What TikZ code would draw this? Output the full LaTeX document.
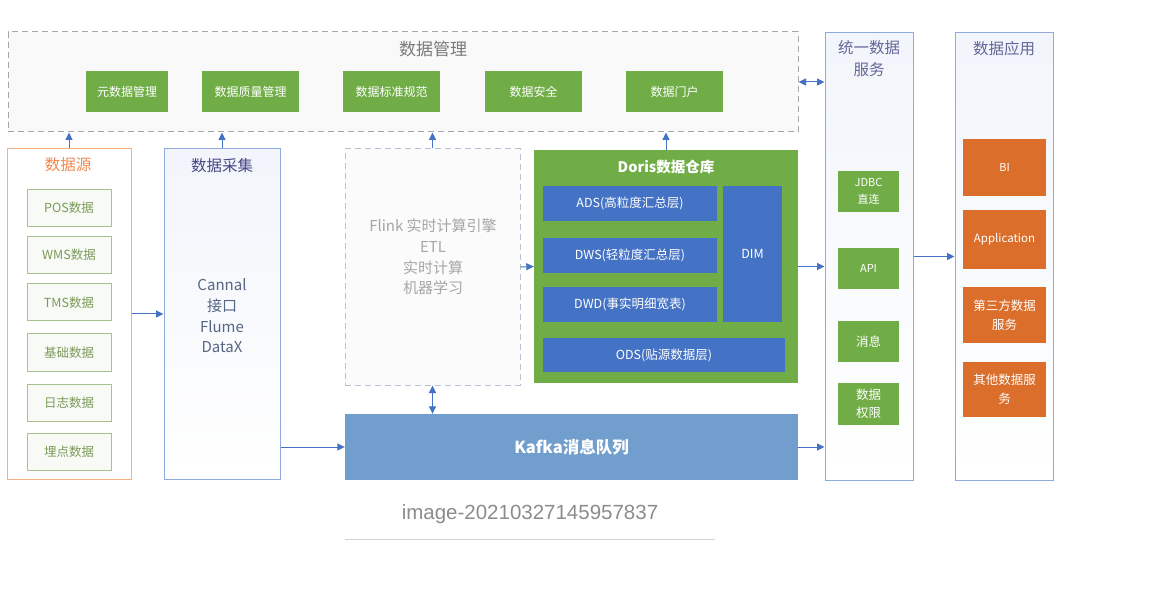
\documentclass[tikz,border=0pt]{standalone}
\usepackage{fontspec}
\setmainfont{Noto Sans CJK SC}
\newfontfamily\capfont{Liberation Sans}
\usetikzlibrary{arrows.meta}
\definecolor{grn}{HTML}{70AD47}
\definecolor{lay}{HTML}{4472C4}
\definecolor{kaf}{HTML}{719ECD}
\definecolor{org}{HTML}{DA6E2A}
\definecolor{frm}{HTML}{8FAADC}
\definecolor{arw}{HTML}{4472C4}
\definecolor{srcb}{HTML}{F4B183}
\definecolor{srct}{HTML}{F08A50}
\definecolor{inb}{HTML}{A9C08F}
\definecolor{intx}{HTML}{7C9A5A}
\tikzset{
  frame/.style={draw=frm, line width=1pt, top color=frm!12, bottom color=white, inner sep=0pt},
  gbox/.style={fill=grn, text=white, inner sep=0pt, align=center, font=\fontsize{12}{15}\selectfont},
  lbox/.style={fill=lay, text=white, inner sep=0pt, align=center, font=\fontsize{12.5}{15}\selectfont},
  obox/.style={fill=org, text=white, inner sep=0pt, align=center, font=\fontsize{12.5}{19}\selectfont},
  sbox/.style={draw=inb, line width=1pt, fill=inb!8, text=intx, inner sep=0pt, minimum width=84, minimum height=37, font=\fontsize{12.5}{15}\selectfont},
  arr/.style={draw=arw, line width=1pt, -{Triangle[length=7.5pt,width=7pt]}},
  darr/.style={draw=arw, line width=1pt, {Triangle[length=7.5pt,width=7pt]}-{Triangle[length=7.5pt,width=7pt]}},
  ttl/.style={inner sep=0pt, align=center}
}
\begin{document}
\begin{tikzpicture}[x=1pt,y=-1pt]
\useasboundingbox[fill=white] (0,0) rectangle (1156,593);

% data management
\node[draw=gray!70, dashed, dash pattern=on 6pt off 4pt, line width=1pt, fill=gray!5, minimum width=790, minimum height=100, inner sep=0pt] (mgmt) at (403,82) {};
\node[ttl, text=gray!95!black, font=\fontsize{17}{20}\selectfont] (mgmtT) at (433,49) {数据管理};
\node[gbox, minimum width=82, minimum height=41] (m1) at (127,91.5) {元数据管理};
\node[gbox, minimum width=97, minimum height=41] (m2) at (250.5,91.5) {数据质量管理};
\node[gbox, minimum width=97, minimum height=41] (m3) at (391.5,91.5) {数据标准规范};
\node[gbox, minimum width=97, minimum height=41] (m4) at (533.5,91.5) {数据安全};
\node[gbox, minimum width=97, minimum height=41] (m5) at (674.5,91.5) {数据门户};

% unified data service
\node[frame, minimum width=88, minimum height=447] (svc) at (869,256.5) {};
\node[ttl, text=gray!80!blue, font=\fontsize{15.5}{22}\selectfont] (svcT) at (869,59) {统一数据\\服务};
\node[gbox, minimum width=61, minimum height=41, font=\fontsize{11}{17}\selectfont] (s1) at (868.5,191.5) {JDBC\\直连};
\node[gbox, minimum width=61, minimum height=41, font=\fontsize{11}{17}\selectfont] (s2) at (868.5,268.5) {API};
\node[gbox, minimum width=61, minimum height=41, font=\fontsize{12.5}{17}\selectfont] (s3) at (868.5,341.5) {消息};
\node[gbox, minimum width=61, minimum height=42, font=\fontsize{12.5}{18}\selectfont] (s4) at (868.5,404) {数据\\权限};

% data application
\node[frame, minimum width=98, minimum height=447] (app) at (1004,256.5) {};
\node[ttl, text=gray!80!blue, font=\fontsize{15.5}{20}\selectfont] (appT) at (1004,49) {数据应用};
\node[obox, minimum width=83, minimum height=57, font=\fontsize{11}{15}\selectfont] (a1) at (1004.5,167.5) {BI};
\node[obox, minimum width=83, minimum height=59, font=\fontsize{11.5}{15}\selectfont] (a2) at (1004.5,239.5) {Application};
\node[obox, minimum width=83, minimum height=56] (a3) at (1004.5,315) {第三方数据\\服务};
\node[obox, minimum width=83, minimum height=55] (a4) at (1004.5,389.5) {其他数据服\\务};

% data source
\node[draw=srcb, line width=1pt, fill=white, minimum width=124, minimum height=330, inner sep=0pt] (src) at (69,314) {};
\node[ttl, text=srct, font=\fontsize{15.5}{20}\selectfont] (srcT) at (68,165) {数据源};
\node[sbox] (d1) at (69,208) {POS数据};
\node[sbox] (d2) at (69,255) {WMS数据};
\node[sbox] (d3) at (69,302.5) {TMS数据};
\node[sbox] (d4) at (69,352.5) {基础数据};
\node[sbox] (d5) at (69,402.5) {日志数据};
\node[sbox] (d6) at (69,452) {埋点数据};

% data collection
\node[frame, minimum width=116, minimum height=330] (col) at (222,314) {};
\node[ttl, text=gray!70!blue!80!black, font=\fontsize{15.5}{20}\selectfont] (colT) at (222,166) {数据采集};
\node[ttl, text=frm!60!black, font=\fontsize{15}{20.7}\selectfont] (colX) at (222,316) {Cannal\\接口\\Flume\\DataX};

% flink
\node[draw=frm!60!gray!60, dashed, dash pattern=on 6pt off 4pt, line width=1pt, fill=gray!3, minimum width=175, minimum height=236, inner sep=0pt] (flink) at (432.5,267) {};
\node[ttl, text=gray!70, font=\fontsize{15}{20.7}\selectfont] (flinkT) at (433,257) {Flink 实时计算引擎\\ETL\\实时计算\\机器学习};

% doris
\node[fill=grn, minimum width=264, minimum height=233, inner sep=0pt] (doris) at (666,266.5) {};
\node[ttl, text=white, font=\fontsize{14.5}{18}\selectfont\bfseries] (dorisT) at (666,167) {Doris数据仓库};
\node[lbox, minimum width=174, minimum height=35] (ads) at (630,203.5) {ADS(高粒度汇总层)};
\node[lbox, minimum width=174, minimum height=35] (dws) at (630,255.5) {DWS(轻粒度汇总层)};
\node[lbox, minimum width=174, minimum height=35] (dwd) at (630,304.5) {DWD(事实明细宽表)};
\node[lbox, minimum width=59, minimum height=136] (dim) at (752.5,254) {DIM};
\node[lbox, minimum width=242, minimum height=34] (ods) at (664,355) {ODS(贴源数据层)};

% kafka
\node[fill=kaf, minimum width=453, minimum height=66, inner sep=0pt, text=white, font=\fontsize{16.5}{20}\selectfont\bfseries] (kafka) at (571.5,447) {Kafka消息队列};

% connectors
\draw[arr] (src.north) -- (src.north |- mgmt.south);
\draw[arr] (col.north) -- (col.north |- mgmt.south);
\draw[arr] (flink.north) -- (flink.north |- mgmt.south);
\draw[arr] (doris.north) -- (doris.north |- mgmt.south);
\draw[darr] (mgmt.east) -- (svc.west |- mgmt.east);
\draw[arr] (src.east) -- (col.west);
\draw[arr] (col.east |- kafka.west) -- (kafka.west);
\draw[arr] (flink.east) -- (doris.west);
\draw[darr] (flink.south) -- (flink.south |- kafka.north);
\draw[arr] (doris.east) -- (svc.west |- doris.east);
\draw[arr] (kafka.east) -- (svc.west |- kafka.east);
\draw[arr] (svc.east) -- (app.west);

% caption
\node[inner sep=0pt, text=gray!90, font=\capfont\fontsize{20.5}{24}\selectfont] (cap) at (530,514) {image-20210327145957837};
\coordinate (ul) at (345,539);
\coordinate (ur) at (715,539);
\draw[gray!35, line width=1pt] (ul) -- (ur);
\end{tikzpicture}
\end{document}
